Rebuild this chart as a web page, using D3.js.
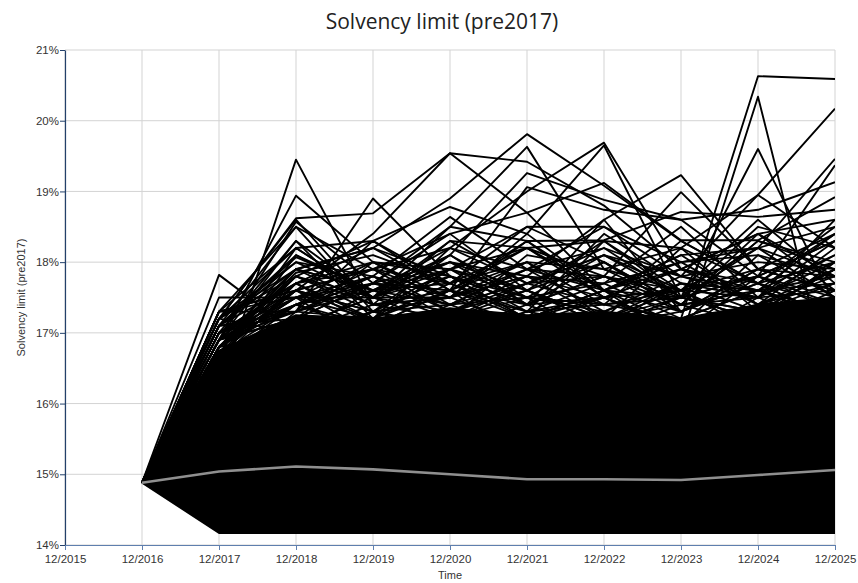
<!DOCTYPE html>
<html>
<head>
<meta charset="utf-8">
<script src="https://cdn.jsdelivr.net/npm/d3@7/dist/d3.min.js"></script>
<style>
  html, body { margin: 0; padding: 0; background: #fff; }
  svg { display: block; }
</style>
</head>
<body>
<svg id="chart" width="858" height="583"></svg>
<script>
// ---------------- DATA ----------------
const tickLabels = ["12/2015","12/2016","12/2017","12/2018","12/2019","12/2020","12/2021","12/2022","12/2023","12/2024","12/2025"];
const yTicks = [14, 15, 16, 17, 18, 19, 20, 21];
const startValue = 14.88;              // all scenarios start at 12/2016
// years 12/2017 .. 12/2025
const floorValues    = [14.17, 14.17, 14.17, 14.17, 14.17, 14.17, 14.17, 14.17, 14.17];
const denseTopValues = [16.75, 17.25, 17.2, 17.35, 17.25, 17.3, 17.2, 17.4, 17.5];
const meanValues     = [15.04, 15.11, 15.07, 15.0, 14.93, 14.93, 14.92, 14.99, 15.06];

// scenario paths near the top of the dense mass (12/2017 .. 12/2025)
const densePaths = [
  [16.5, 17.2, 16.9, 17.4, 17.0, 17.3, 16.9, 17.5, 17.1],
  [16.7, 16.9, 17.3, 17.0, 17.4, 17.0, 17.4, 17.1, 17.6],
  [16.6, 17.4, 17.0, 17.2, 17.5, 16.9, 17.2, 17.6, 17.3],
  [16.8, 17.0, 17.4, 17.5, 17.1, 17.5, 17.0, 17.3, 17.7],
  [16.4, 17.3, 17.2, 16.9, 17.3, 17.4, 17.6, 17.0, 17.5],
  [16.9, 17.5, 16.8, 17.3, 17.6, 17.1, 17.3, 17.7, 17.2],
  [16.6, 17.1, 17.5, 17.1, 17.2, 17.6, 17.1, 17.4, 17.8],
  [16.8, 17.4, 17.1, 17.6, 16.9, 17.2, 17.5, 17.2, 17.4],
  [16.5, 16.8, 17.3, 17.4, 17.5, 17.3, 17.7, 17.5, 17.6],
  [16.7, 17.6, 17.0, 17.0, 17.3, 17.7, 17.2, 17.6, 17.3],
  [16.9, 17.3, 17.6, 17.2, 17.7, 17.4, 17.5, 17.3, 17.9],
  [17.0, 17.7, 17.2, 17.7, 17.2, 17.6, 17.3, 17.8, 17.5],
  [16.8, 17.5, 17.5, 17.3, 17.6, 17.2, 17.7, 17.6, 17.7],
  [16.9, 17.2, 17.7, 17.6, 17.4, 17.8, 17.4, 17.5, 18.0],
  [16.7, 17.8, 17.3, 17.5, 17.8, 17.5, 17.6, 17.9, 17.6],
  [16.9, 17.6, 17.2, 17.9, 17.3, 17.5, 17.0, 17.8, 17.4],
  [17.1, 17.3, 17.8, 17.2, 17.6, 17.1, 17.7, 17.3, 17.9],
  [16.8, 17.9, 17.4, 17.5, 18.0, 17.2, 17.4, 17.6, 17.2],
  [17.2, 17.0, 17.6, 18.1, 17.4, 17.8, 17.3, 17.9, 17.6],
  [16.7, 17.4, 17.9, 17.3, 17.7, 18.2, 17.5, 17.2, 18.0],
  [17.3, 18.2, 17.5, 17.8, 17.2, 17.6, 18.0, 17.4, 17.7],
  [17.0, 17.7, 17.1, 17.6, 18.3, 17.5, 17.1, 18.1, 17.5],
  [16.9, 17.2, 18.0, 17.4, 17.9, 17.3, 17.8, 17.5, 18.3],
  [17.1, 18.5, 17.3, 17.9, 17.5, 18.1, 17.6, 17.8, 17.3],
  [16.8, 17.5, 17.7, 18.4, 17.6, 17.2, 18.2, 17.3, 17.9],
  [17.2, 17.8, 17.4, 17.2, 18.1, 17.9, 17.4, 18.4, 17.6],
  [16.6, 18.1, 17.6, 17.7, 17.3, 18.4, 17.7, 17.6, 18.1],
  [17.0, 17.3, 18.3, 17.6, 18.0, 17.4, 18.3, 17.7, 17.4],
  [16.9, 18.3, 17.2, 18.2, 17.7, 17.8, 17.5, 18.2, 18.5],
  [17.3, 17.6, 17.9, 17.5, 18.4, 17.6, 17.9, 17.4, 18.2],
  [16.7, 17.1, 17.5, 18.0, 17.4, 18.6, 17.3, 17.9, 17.8],
  [17.1, 18.0, 17.8, 17.3, 17.8, 17.7, 18.5, 17.5, 18.6],
  [16.8, 17.7, 18.2, 17.8, 17.2, 18.3, 17.6, 18.6, 17.7],
  [17.2, 18.6, 17.4, 18.3, 18.2, 17.5, 17.9, 17.7, 18.4],
  [17.0, 17.4, 17.6, 17.9, 18.5, 18.0, 17.4, 18.3, 17.9],
  [16.9, 17.9, 17.6, 17.4, 17.7, 18.1, 17.8, 17.6, 18.4],
  [17.3, 17.6, 17.3, 18.1, 17.5, 17.7, 18.0, 18.1, 17.8],
  [17.1, 17.2, 17.7, 17.6, 18.2, 17.6, 17.5, 17.8, 18.3],
  [16.8, 17.8, 17.5, 17.5, 17.9, 18.2, 17.8, 18.0, 17.9],
  [17.0, 17.5, 18.0, 17.8, 17.4, 17.5, 17.9, 18.4, 18.6],
  [17.2, 17.9, 17.6, 18.2, 17.9, 17.8, 17.6, 17.5, 18.1],
  [16.9, 17.4, 17.8, 17.5, 18.3, 17.6, 18.1, 18.2, 17.8],
  [17.1, 18.1, 17.5, 17.9, 17.6, 18.3, 17.5, 18.5, 18.2],
  [16.7, 17.6, 17.9, 17.7, 18.0, 17.9, 18.2, 17.7, 18.5],
  [17.3, 17.3, 17.7, 18.0, 17.6, 18.0, 17.4, 18.3, 18.0]
];

// extreme scenario paths (12/2017 .. 12/2025)
const outlierPaths = [
  [17.82, 17.0, 17.3, 17.1, 17.2, 16.9, 17.2, 17.0, 17.4],
  [17.5, 17.5, 17.2, 17.6, 17.3, 17.1, 17.5, 17.3, 17.2],
  [16.2, 19.45, 17.4, 17.6, 17.2, 17.5, 17.1, 17.4, 17.3],
  [16.9, 18.94, 18.0, 17.5, 17.8, 17.2, 17.6, 17.1, 17.5],
  [17.2, 18.62, 18.69, 19.54, 19.42, 18.8, 17.9, 17.6, 17.8],
  [17.0, 17.3, 18.9, 17.8, 17.4, 18.0, 17.3, 17.7, 17.2],
  [16.8, 17.6, 18.4, 19.54, 18.7, 17.6, 18.1, 17.4, 17.9],
  [17.1, 17.9, 18.2, 18.9, 19.81, 19.08, 18.3, 17.7, 18.0],
  [16.9, 18.57, 17.7, 18.5, 19.63, 17.9, 17.6, 18.2, 17.5],
  [17.3, 18.5, 17.9, 18.2, 19.0, 19.69, 17.9, 18.4, 17.8],
  [16.7, 18.2, 18.3, 18.78, 18.4, 19.65, 17.5, 17.8, 18.3],
  [17.1, 18.07, 17.6, 18.0, 17.8, 18.6, 19.23, 17.9, 18.4],
  [16.8, 17.85, 18.1, 17.7, 18.2, 17.8, 18.99, 17.9, 17.6],
  [17.0, 17.6, 17.3, 17.8, 17.5, 17.4, 17.2, 20.63, 20.59],
  [16.9, 17.4, 17.7, 17.4, 17.9, 17.6, 16.9, 20.34, 16.0],
  [17.2, 18.0, 17.5, 18.3, 17.7, 18.1, 17.5, 19.6, 17.4],
  [16.6, 17.7, 18.0, 17.9, 18.2, 18.3, 18.2, 18.95, 20.17],
  [17.3, 17.5, 17.8, 18.64, 17.9, 18.5, 18.0, 18.2, 19.46],
  [17.0, 18.3, 17.5, 18.1, 19.26, 18.88, 18.6, 17.8, 19.37],
  [16.8, 17.9, 18.2, 17.6, 19.06, 18.74, 18.6, 18.74, 19.13],
  [17.1, 17.7, 17.9, 18.4, 18.7, 19.12, 18.31, 18.31, 18.92],
  [17.2, 18.2, 17.5, 18.5, 18.3, 18.31, 18.71, 18.64, 18.74],
  [16.9, 17.8, 18.3, 17.7, 18.5, 18.5, 17.8, 18.95, 18.2]
];

// ---------------- CHART ----------------
const svg = d3.select("#chart");
const mLeft = 65, mRight = 835, mTop = 50, mBottom = 545;

const x = d3.scaleLinear().domain([0, tickLabels.length - 1]).range([mLeft, mRight]);
const y = d3.scaleLinear().domain([14, 21]).range([mBottom, mTop]);

// series index: 1 = 12/2016, 2.. = 12/2017..
const withStart = vals => [startValue, ...vals].map((v, i) => ({ i: i + 1, v }));

// gridlines
const grid = svg.append("g");
grid.selectAll("line.v").data(d3.range(tickLabels.length)).join("line")
  .attr("class", "v")
  .attr("x1", d => x(d)).attr("x2", d => x(d))
  .attr("y1", mTop).attr("y2", mBottom)
  .attr("stroke", "#d3d3d3").attr("stroke-width", 1);
grid.selectAll("line.h").data(yTicks).join("line")
  .attr("class", "h")
  .attr("x1", mLeft).attr("x2", mRight)
  .attr("y1", d => y(d)).attr("y2", d => y(d))
  .attr("stroke", "#d3d3d3").attr("stroke-width", 1);

svg.append("clipPath").attr("id", "clip").append("rect")
  .attr("x", mLeft).attr("y", mTop - 2).attr("width", mRight - mLeft).attr("height", mBottom - mTop + 2);

const plot = svg.append("g").attr("clip-path", "url(#clip)");

// dense mass of scenarios
const floorPts = withStart(floorValues);
const topPts = withStart(denseTopValues);
const band = floorPts.map((d, k) => ({ i: d.i, lo: d.v, hi: topPts[k].v }));
const area = d3.area().x(d => x(d.i)).y0(d => y(d.lo)).y1(d => y(d.hi));
plot.append("path").datum(band).attr("d", area)
  .attr("fill", "#000").attr("stroke", "#000").attr("stroke-width", 1.8).attr("stroke-linejoin", "round");

const line = d3.line().x(d => x(d.i)).y(d => y(d.v));

plot.selectAll("path.dense").data(densePaths).join("path")
  .attr("class", "dense")
  .attr("d", d => line(withStart(d)))
  .attr("fill", "none").attr("stroke", "#000").attr("stroke-width", 1.8)
  .attr("stroke-linejoin", "round");

plot.selectAll("path.out").data(outlierPaths).join("path")
  .attr("class", "out")
  .attr("d", d => line(withStart(d)))
  .attr("fill", "none").attr("stroke", "#000").attr("stroke-width", 1.9)
  .attr("stroke-linejoin", "round");

// mean line
const meanLine = d3.line().x(d => x(d.i)).y(d => y(d.v));
plot.append("path").datum(withStart(meanValues)).attr("d", meanLine)
  .attr("fill", "none").attr("stroke", "#8f8f8f").attr("stroke-width", 2.6).attr("stroke-linejoin", "round");

// axes
const yAxis = d3.axisLeft(y).tickValues(yTicks).tickFormat(d => d + "%").tickSize(5).tickSizeOuter(0);
const gy = svg.append("g").attr("transform", `translate(${mLeft},0)`).call(yAxis);
gy.select(".domain").attr("stroke", "#23406a").attr("stroke-width", 1.2);
gy.selectAll(".tick line").attr("stroke", "#23406a");
gy.selectAll(".tick text").attr("fill", "#333").attr("font-family", "Liberation Sans, Arial, sans-serif").attr("font-size", 11.5).attr("x", -6);

const xAxis = d3.axisBottom(x).tickValues(d3.range(tickLabels.length)).tickFormat(d => tickLabels[d]).tickSize(5).tickSizeOuter(0);
const gx = svg.append("g").attr("transform", `translate(0,${mBottom})`).call(xAxis);
gx.select(".domain").attr("stroke", "#5f7fae").attr("stroke-width", 1.2);
gx.selectAll(".tick line").attr("stroke", "#5f7fae");
gx.selectAll(".tick text").attr("fill", "#333").attr("font-family", "Liberation Sans, Arial, sans-serif").attr("font-size", 11.5).attr("dy", "0.85em");

// titles
svg.append("text").attr("x", 442).attr("y", 29).attr("text-anchor", "middle")
  .attr("font-family", "Open Sans, Noto Sans, sans-serif").attr("font-size", 21).attr("fill", "#222")
  .text("Solvency limit (pre2017)");
svg.append("text").attr("x", 450).attr("y", 579).attr("text-anchor", "middle")
  .attr("font-family", "Liberation Sans, Arial, sans-serif").attr("font-size", 11).attr("fill", "#333")
  .text("Time");
svg.append("text").attr("transform", `translate(25,${(mTop + mBottom) / 2}) rotate(-90)`).attr("text-anchor", "middle")
  .attr("font-family", "Liberation Sans, Arial, sans-serif").attr("font-size", 11).attr("fill", "#333")
  .text("Solvency limit (pre2017)");
</script>
</body>
</html>
